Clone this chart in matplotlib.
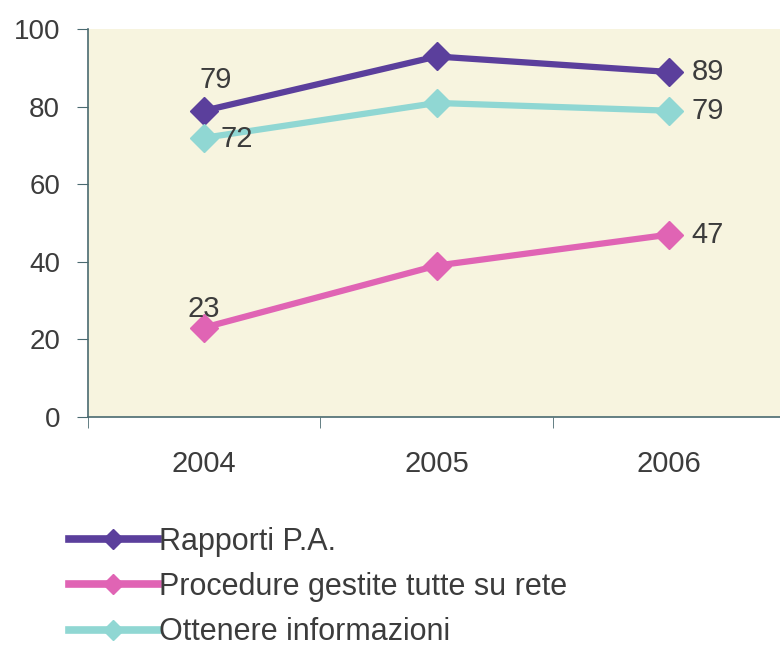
import matplotlib.pyplot as plt
from matplotlib.ticker import FixedLocator

plt.rcParams['font.family'] = ['Liberation Sans', 'DejaVu Sans']

### Data ###
years = ["2004", "2005", "2006"]
rapporti = [79, 93, 89]
procedure = [23, 39, 47]
informazioni = [72, 81, 79]
names = ["Rapporti P.A.", "Procedure gestite tutte su rete", "Ottenere informazioni"]
colors = ["#5b3f9c", "#e064b4", "#90d7d3"]
text_col = "#3c3c3c"
fs = 21

fig = plt.figure(figsize=(7.8, 6.53), dpi=100)
ax = fig.add_axes([0.1128, 0.362, 0.894, 0.593])
ax.set_facecolor("#f7f4df")

x = list(range(len(years)))
series = [rapporti, procedure, informazioni]
for vals, name, col in zip(series, names, colors):
	ax.plot(x, vals, color=col, lw=4.5, marker="D", ms=14, label=name, zorder=3)

# data labels
ax.annotate(str(rapporti[0]), (0, rapporti[0]), xytext=(8, 12), textcoords="offset points",
	ha="center", va="bottom", fontsize=fs, color=text_col)
ax.annotate(str(informazioni[0]), (0, informazioni[0]), xytext=(12, -1), textcoords="offset points",
	ha="left", va="center", fontsize=fs, color=text_col)
ax.annotate(str(procedure[0]), (0, procedure[0]), xytext=(0, 3), textcoords="offset points",
	ha="center", va="bottom", fontsize=fs, color=text_col)
for vals in series:
	ax.annotate(str(vals[2]), (2, vals[2]), xytext=(16, 0), textcoords="offset points",
		ha="left", va="center", fontsize=fs, color=text_col)

ax.set_xlim(-0.5, 2.5)
ax.set_ylim(0, 100)
ax.set_yticks([0, 20, 40, 60, 80, 100])
ax.set_xticks(x)
ax.set_xticklabels(years)
ax.xaxis.set_minor_locator(FixedLocator([-0.5, 0.5, 1.5, 2.5]))
ax.tick_params(axis="x", which="major", length=0, pad=24, labelsize=fs, labelcolor=text_col)
ax.tick_params(axis="x", which="minor", length=8, direction="out", color="#4a6a70")
ax.tick_params(axis="y", length=8, direction="out", pad=12, labelsize=20, labelcolor=text_col, color="#4a6a70")

for s in ["top", "right"]:
	ax.spines[s].set_visible(False)
for s in ["left", "bottom"]:
	ax.spines[s].set_color("#4a6a70")
	ax.spines[s].set_linewidth(1.2)

leg = fig.legend(loc="upper left", bbox_to_anchor=(0.073, 0.212), frameon=False, fontsize=22,
	handlelength=2.9, handletextpad=0.05, labelspacing=0.5, labelcolor=text_col, borderaxespad=0,
	markerscale=0.7)
for ln in leg.get_lines():
	ln.set_linewidth(5.5)

plt.savefig("out.png", dpi=100)
